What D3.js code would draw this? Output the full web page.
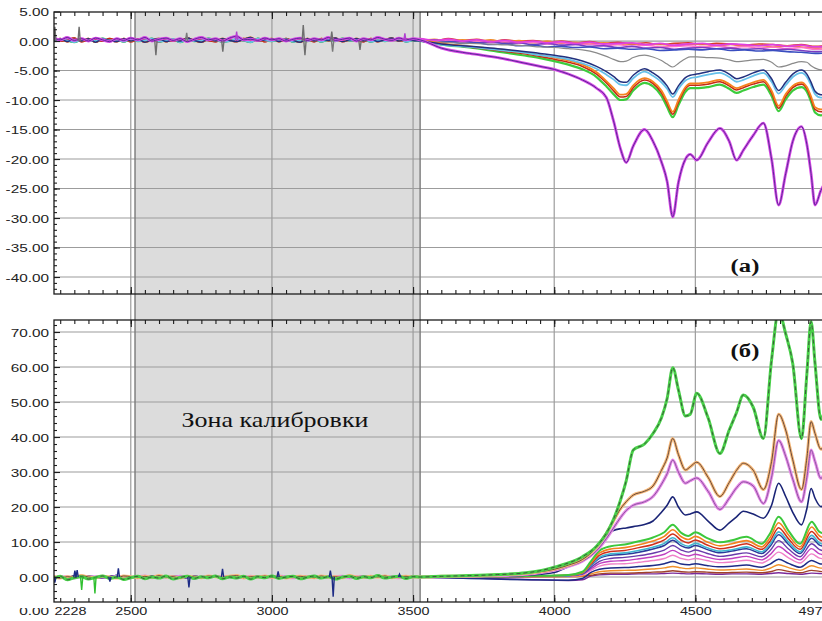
<!DOCTYPE html>
<html><head><meta charset="utf-8">
<script src="https://cdn.jsdelivr.net/npm/d3@7/dist/d3.min.js"></script>
<style>body{margin:0;background:#fff}svg{display:block}</style>
</head><body><svg id="c" width="822" height="621"></svg>
<script>
// ---------------- DATA ----------------
const calibZone = [2515, 3525];
const xTickValues = [2228, 2500, 3000, 3500, 4000, 4500, 4977];
const xTickLabels = ["2228", "2500", "3000", "3500", "4000", "4500", "4977"];
const topTickValues = [5, 0, -5, -10, -15, -20, -25, -30, -35, -40];
const topTickLabels = ["5.00", "0.00", "-5.00", "-10.00", "-15.00", "-20.00", "-25.00", "-30.00", "-35.00", "-40.00"];
const botTickValues = [70, 60, 50, 40, 30, 20, 10, 0];
const botTickLabels = ["70.00", "60.00", "50.00", "40.00", "30.00", "20.00", "10.00", "0.00"];

const calibX = [2228, 2250, 2275, 2300, 2325, 2350, 2375, 2400, 2425, 2450, 2475, 2500, 2525, 2550, 2575, 2600, 2625, 2650, 2675, 2700, 2725, 2750, 2775, 2800, 2825, 2850, 2875, 2900, 2925, 2950, 2975, 3000, 3025, 3050, 3075, 3100, 3125, 3150, 3175, 3200, 3225, 3250, 3275, 3300, 3325, 3350, 3375, 3400, 3425, 3450, 3475, 3500];
const topNoiseA = [0.5, 0.2, 0.6, 0.1, 0.4, 0.0, 0.5, 0.2, -0.1, 0.4, 0.1, 0.5, 0.2, 0.6, 0.0, 0.3, 0.5, 0.1, 0.4, -0.1, 0.3, 0.6, 0.2, 0.4, 0.0, 0.5, 0.8, 0.2, 0.3, 0.1, 0.5, 0.2, 0.4, 0.0, 0.3, 0.5, 0.1, 0.4, 0.2, 0.6, 0.1, 0.3, 0.5, 0.0, 0.4, 0.2, 0.6, 0.3, 0.1, 0.5, 0.2, 0.4];
const topNoiseB = [0.1, 0.4, -0.1, 0.3, 0.0, 0.4, -0.2, 0.3, 0.1, -0.1, 0.4, 0.0, 0.3, -0.2, 0.2, 0.4, -0.1, 0.2, 0.0, 0.5, 0.1, -0.2, 0.3, 0.0, 0.4, 0.1, -0.1, 0.3, 0.6, 0.0, 0.2, 0.4, -0.1, 0.3, 0.1, -0.2, 0.4, 0.0, 0.3, 0.1, 0.5, -0.1, 0.2, 0.4, 0.0, 0.3, -0.1, 0.2, 0.5, 0.0, 0.3, 0.1];
const topNoiseC = [0.3, 0.0, 0.2, 0.5, -0.1, 0.2, 0.3, 0.0, 0.4, 0.1, 0.3, -0.1, 0.2, 0.4, 0.1, -0.1, 0.3, 0.0, 0.2, 0.4, 0.0, 0.3, 0.1, -0.1, 0.3, 0.2, 0.0, 0.4, 0.1, 0.3, -0.1, 0.2, 0.1, 0.4, 0.0, 0.2, 0.3, -0.1, 0.4, 0.1, 0.2, 0.0, 0.3, 0.1, -0.1, 0.4, 0.0, 0.2, 0.3, 0.1, 0.0, 0.2];
const topNoiseD = [0.0, 0.3, 0.1, -0.2, 0.2, 0.1, 0.0, 0.4, 0.1, 0.2, -0.1, 0.3, 0.0, 0.1, 0.4, -0.1, 0.1, 0.3, -0.2, 0.2, 0.0, 0.1, 0.4, 0.2, -0.1, 0.0, 0.3, 0.1, -0.2, 0.4, 0.1, 0.0, 0.2, 0.3, -0.1, 0.1, 0.0, 0.3, -0.1, 0.2, 0.0, 0.4, 0.1, 0.2, 0.3, -0.1, 0.1, 0.0, 0.2, 0.4, -0.1, 0.1];
const botNoiseA = [-0.5, 0.2, -0.8, -0.2, 0.1, -0.6, -0.1, 0.3, -0.4, 0.0, -0.7, -0.2, 0.2, -0.5, 0.0, -0.3, 0.3, -0.6, -0.1, 0.2, -0.4, 0.1, -0.2, 0.3, -0.5, 0.0, -0.3, 0.2, -0.6, 0.1, -0.2, 0.3, -0.4, 0.0, 0.2, -0.5, -0.1, 0.3, -0.3, 0.1, -0.6, 0.0, 0.2, -0.4, 0.1, -0.2, 0.4, -0.3, 0.0, 0.2, -0.4, 0.1];
const botNoiseB = [0.2, -0.3, 0.1, -0.1, 0.4, 0.0, -0.2, 0.2, 0.0, -0.3, 0.3, 0.1, -0.2, 0.2, -0.1, 0.4, 0.0, 0.1, -0.3, 0.2, 0.0, -0.2, 0.3, 0.1, -0.1, 0.2, 0.4, -0.2, 0.1, 0.0, 0.3, -0.1, 0.2, -0.3, 0.1, 0.2, 0.0, -0.2, 0.3, 0.0, 0.1, -0.2, 0.4, 0.0, -0.1, 0.2, 0.0, 0.3, -0.2, 0.1, 0.2, 0.0];
const botNoiseC = [0.0, 0.1, -0.2, 0.3, -0.1, 0.2, 0.0, -0.3, 0.1, 0.4, -0.1, 0.0, 0.2, -0.2, 0.3, 0.0, -0.1, 0.2, 0.1, -0.3, 0.2, 0.0, -0.1, 0.3, 0.0, 0.2, -0.2, 0.1, 0.0, 0.3, -0.1, 0.1, 0.2, -0.2, 0.0, 0.3, 0.1, -0.1, 0.2, 0.0, -0.3, 0.2, 0.1, 0.0, 0.3, -0.1, 0.0, 0.2, -0.2, 0.1, 0.0, 0.2];
const botNoiseD = [-0.2, 0.1, 0.0, -0.3, 0.2, -0.1, 0.1, 0.0, -0.2, 0.2, 0.0, -0.1, 0.1, 0.3, -0.2, 0.0, 0.1, -0.1, 0.2, 0.0, -0.3, 0.1, 0.0, 0.2, -0.1, 0.1, 0.0, -0.2, 0.2, 0.0, 0.1, -0.1, 0.3, 0.0, -0.2, 0.1, 0.0, 0.2, -0.1, 0.0, 0.1, 0.2, -0.2, 0.1, 0.0, -0.1, 0.2, 0.0, 0.1, -0.2, 0.0, 0.1];

const spikeTopX = [2231, 2317, 2589, 2698, 2826, 2875, 3111, 3117, 3212, 3215, 3312, 3471];
const spikeTopV = [2.4, 2.4, -2.4, 1.4, -1.8, 1.6, 2.7, -2.4, 1.6, -1.8, -1.5, 1.3];
const spikeBotX = [2231, 2302, 2310, 2326, 2373, 2426, 2456, 2706, 2825, 3022, 3207, 3217, 3452];
const spikeBotV = [-1.6, 1.8, 2.0, -3.7, -4.7, -1.3, 2.5, -3.0, 2.3, 1.6, 1.8, -5.6, 0.8];

const featX = [3525, 3600, 3700, 3800, 3900, 3950, 4000, 4050, 4100, 4150, 4185, 4210, 4235, 4255, 4280, 4320, 4350, 4380, 4400, 4420, 4440, 4465, 4482, 4505, 4545, 4587, 4620, 4646, 4670, 4705, 4741, 4770, 4795, 4820, 4845, 4876, 4895, 4910, 4924, 4945, 4960, 4977];
const topPurple = [0.2, -1.2, -2.1, -2.8, -3.8, -4.3, -4.8, -5.6, -6.6, -8.0, -9.6, -13.5, -18.3, -20.6, -17.8, -15.0, -17.0, -20.5, -23.8, -29.8, -24.0, -20.0, -19.2, -20.2, -17.2, -14.8, -17.0, -20.2, -18.5, -16.0, -13.9, -20.0, -27.8, -22.5, -17.0, -14.5, -17.5, -22.5, -27.8, -25.3, -24.0, -23.0];
const topNavy = [0.0, -0.5, -0.9, -1.3, -1.8, -2.1, -2.4, -2.8, -3.4, -4.3, -5.2, -6.0, -6.9, -7.0, -5.8, -4.7, -5.4, -6.5, -7.6, -9.0, -7.6, -6.2, -5.8, -5.6, -5.2, -4.9, -5.6, -6.4, -6.1, -5.4, -4.9, -6.4, -8.4, -7.0, -5.6, -4.9, -5.6, -7.0, -8.5, -9.1, -9.0, -8.8];
const topCyan = [0.0, -0.6, -1.0, -1.5, -2.0, -2.4, -2.7, -3.1, -3.8, -4.7, -5.7, -6.5, -7.4, -7.5, -6.3, -5.2, -5.9, -7.0, -8.1, -9.5, -8.1, -6.7, -6.3, -6.1, -5.7, -5.4, -6.1, -6.9, -6.6, -5.9, -5.4, -6.9, -8.9, -7.5, -6.1, -5.4, -6.1, -7.5, -9.0, -9.6, -9.5, -9.3];
const topOrange = [0.1, -0.4, -0.9, -1.4, -2.0, -2.4, -2.8, -3.3, -4.0, -5.3, -6.8, -8.0, -9.1, -9.0, -7.5, -6.3, -6.9, -8.4, -10.2, -12.0, -10.0, -7.8, -7.2, -7.2, -7.0, -6.6, -7.3, -8.0, -7.6, -7.0, -6.6, -8.4, -11.0, -9.0, -7.6, -7.0, -7.8, -9.4, -11.2, -11.6, -11.4, -11.0];
const topRed = [0.0, -0.5, -1.0, -1.6, -2.2, -2.6, -3.1, -3.6, -4.3, -5.6, -7.1, -8.4, -9.5, -9.4, -7.9, -6.6, -7.2, -8.8, -10.6, -12.4, -10.4, -8.1, -7.5, -7.5, -7.3, -6.9, -7.6, -8.3, -7.9, -7.3, -6.9, -8.8, -11.4, -9.4, -7.9, -7.3, -8.1, -9.8, -11.6, -12.0, -11.8, -11.4];
const topGreen = [0.0, -0.6, -1.1, -1.8, -2.5, -2.9, -3.4, -4.0, -4.8, -6.1, -7.7, -9.0, -10.0, -9.9, -8.4, -7.1, -7.7, -9.3, -11.2, -12.9, -10.9, -8.6, -8.0, -8.0, -7.8, -7.4, -8.1, -8.8, -8.4, -7.8, -7.4, -9.3, -11.9, -9.9, -8.4, -7.8, -8.6, -10.3, -12.1, -12.6, -12.3, -11.9];
const topGray = [0.1, -0.2, -0.4, -0.6, -0.8, -1.0, -1.1, -1.3, -1.5, -2.0, -2.6, -3.1, -3.5, -3.4, -2.8, -2.4, -2.7, -3.3, -3.9, -4.4, -3.8, -3.0, -2.7, -2.7, -2.8, -2.9, -3.2, -3.5, -3.4, -3.2, -3.1, -3.6, -4.4, -4.2, -3.8, -3.5, -3.6, -4.2, -4.6, -4.9, -4.9, -4.8];

const bandX = [3525, 3575, 3625, 3675, 3725, 3775, 3825, 3875, 3925, 3975, 4025, 4075, 4125, 4175, 4225, 4275, 4325, 4375, 4425, 4475, 4525, 4575, 4625, 4675, 4725, 4775, 4825, 4875, 4925, 4977];
const bandRed = [0.3, 0.0, 0.4, 0.1, 0.3, -0.1, 0.2, 0.0, 0.1, -0.2, 0.0, -0.3, -0.1, -0.4, -0.2, -0.5, -0.3, -0.6, -0.4, -0.3, -0.6, -0.4, -0.5, -0.7, -0.5, -0.6, -0.8, -0.6, -0.9, -0.8];
const bandOrange = [0.1, 0.3, -0.1, 0.2, 0.0, 0.2, -0.2, 0.1, -0.3, 0.0, -0.4, -0.2, -0.5, -0.3, -0.6, -0.4, -0.7, -0.5, -0.8, -0.6, -0.5, -0.8, -0.6, -0.9, -0.7, -1.0, -0.8, -1.0, -1.2, -1.1];
const bandPink = [0.2, -0.1, 0.1, -0.2, 0.0, -0.3, -0.1, -0.4, -0.2, -0.5, -0.3, -0.6, -0.5, -0.8, -0.6, -0.9, -0.7, -1.0, -0.9, -0.8, -1.0, -0.8, -1.1, -0.9, -1.2, -1.0, -1.3, -1.1, -1.4, -1.3];
const bandPurple = [0.0, 0.2, -0.2, 0.0, -0.3, -0.1, -0.4, -0.3, -0.6, -0.4, -0.7, -0.6, -0.9, -0.8, -1.1, -0.9, -1.2, -1.1, -1.4, -1.2, -1.1, -1.3, -1.2, -1.4, -1.3, -1.5, -1.4, -1.6, -1.8, -1.7];
const bandMagenta = [0.4, 0.1, 0.3, 0.0, 0.2, -0.1, 0.1, -0.2, 0.0, -0.3, -0.1, -0.4, -0.2, -0.5, -0.4, -0.3, -0.6, -0.4, -0.7, -0.5, -0.4, -0.7, -0.5, -0.6, -0.8, -0.6, -0.9, -0.7, -1.0, -0.9];
const bandBlue = [0.0, -0.3, -0.1, -0.4, -0.3, -0.6, -0.5, -0.8, -0.7, -1.0, -0.9, -1.1, -1.0, -1.3, -1.2, -1.4, -1.3, -1.6, -1.5, -1.4, -1.5, -1.3, -1.6, -1.5, -1.7, -1.6, -1.8, -1.9, -2.1, -2.0];

const botGreen = [0.0, 0.2, 0.4, 0.7, 1.2, 1.8, 2.8, 4.0, 5.8, 8.8, 12.5, 16.5, 22.0, 27.5, 36.3, 38.0, 41.0, 45.5, 51.0, 59.8, 53.5, 46.0, 46.5, 52.5, 45.5, 35.3, 42.0, 47.0, 52.0, 48.5, 39.6, 62.0, 76.0, 69.5, 61.0, 39.5, 58.0, 73.0, 61.0, 45.0, 48.0, 52.0];
const botOrange = [0.0, 0.2, 0.3, 0.6, 1.0, 1.5, 2.2, 3.4, 5.0, 8.5, 12.5, 16.0, 19.5, 21.5, 23.4, 24.5, 26.0, 30.5, 34.0, 39.6, 35.0, 30.6, 31.5, 32.8, 28.5, 23.0, 27.0, 30.5, 32.5, 30.5, 25.0, 33.0, 46.5, 42.0, 33.5, 25.0, 34.0, 44.4, 41.0, 36.5, 38.0, 40.0];
const botPink = [0.0, 0.1, 0.2, 0.4, 0.8, 1.2, 1.9, 3.0, 4.5, 7.5, 11.0, 14.0, 17.0, 19.0, 20.5, 21.5, 23.0, 26.5, 29.5, 33.4, 30.0, 26.8, 27.5, 28.3, 24.5, 19.3, 22.5, 25.5, 27.2, 26.0, 21.0, 28.5, 39.0, 34.5, 28.0, 21.5, 28.5, 36.3, 33.0, 28.2, 30.0, 32.0];
const botNavy = [0.0, 0.0, 0.1, 0.2, 0.5, 0.8, 1.3, 3.0, 5.5, 8.5, 12.0, 13.3, 13.8, 14.0, 14.4, 15.0, 16.0, 18.5, 20.5, 22.9, 20.0, 17.7, 18.0, 18.6, 16.0, 13.4, 15.5, 17.2, 18.8, 18.0, 16.8, 20.5, 26.8, 23.0, 18.5, 14.9, 19.5, 25.3, 22.5, 20.1, 21.0, 22.0];

const bundleX = [3525, 3700, 3900, 4050, 4100, 4130, 4160, 4200, 4250, 4300, 4350, 4390, 4420, 4450, 4475, 4500, 4540, 4587, 4630, 4681, 4735, 4765, 4795, 4830, 4871, 4912, 4940, 4977];
const bundleGreen = [0, 0.1, 0.3, 0.6, 1.5, 4.5, 7.5, 8.8, 9.3, 10.2, 11.3, 12.8, 14.9, 12.6, 11.7, 12.8, 11.2, 9.9, 10.5, 11.5, 9.5, 12.5, 17.2, 13.2, 9.5, 15.8, 12.9, 12.0];
const bundleOrange = [0, 0.1, 0.3, 0.5, 1.3, 4.0, 6.8, 8.0, 8.4, 9.2, 10.3, 11.6, 13.5, 11.5, 10.7, 11.6, 10.1, 8.9, 9.5, 10.4, 8.6, 11.3, 15.5, 12.0, 8.6, 14.3, 11.7, 10.8];
const bundleRed = [0, 0.1, 0.2, 0.5, 1.2, 3.7, 6.2, 7.3, 7.6, 8.4, 9.3, 10.6, 12.3, 10.5, 9.7, 10.6, 9.2, 8.1, 8.6, 9.5, 7.9, 10.3, 14.1, 10.9, 7.9, 13.0, 10.7, 9.8];
const bundleCyan = [0, 0.1, 0.2, 0.4, 1.1, 3.4, 5.6, 6.6, 6.9, 7.6, 8.5, 9.6, 11.2, 9.5, 8.8, 9.6, 8.4, 7.4, 7.8, 8.6, 7.2, 9.4, 12.9, 10.0, 7.2, 11.9, 9.7, 9.0];
const bundleNavy = [0, 0.1, 0.2, 0.4, 1.0, 3.2, 5.3, 6.2, 6.5, 7.1, 8.0, 9.0, 10.5, 8.9, 8.3, 9.0, 7.9, 6.9, 7.4, 8.1, 6.7, 8.8, 12.1, 9.3, 6.7, 11.1, 9.1, 8.4];
const bundlePurple = [0, 0.1, 0.2, 0.4, 0.9, 2.7, 4.5, 5.3, 5.6, 6.1, 6.8, 7.7, 9.0, 7.7, 7.1, 7.7, 6.8, 5.9, 6.3, 6.9, 5.8, 7.6, 10.4, 8.0, 5.8, 9.5, 7.8, 7.2];
const bundleMagenta = [0, 0.1, 0.2, 0.3, 0.8, 2.3, 3.8, 4.5, 4.7, 5.2, 5.8, 6.5, 7.6, 6.5, 6.0, 6.5, 5.7, 5.0, 5.3, 5.9, 4.9, 6.4, 8.7, 6.8, 4.9, 8.1, 6.6, 6.1];
const bundlePink = [0, 0.0, 0.1, 0.2, 0.6, 1.9, 3.1, 3.7, 3.8, 4.2, 4.7, 5.3, 6.2, 5.3, 4.9, 5.3, 4.7, 4.1, 4.3, 4.8, 4.0, 5.2, 7.1, 5.5, 4.0, 6.6, 5.4, 5.0];
const bundleNavy2 = [0, -0.4, -0.8, -0.9, -0.4, 1.3, 2.2, 2.6, 2.7, 3.0, 3.3, 3.8, 4.4, 3.7, 3.5, 3.8, 3.3, 2.9, 3.1, 3.4, 2.8, 3.7, 5.1, 3.9, 2.8, 4.7, 3.8, 3.5];
const bundleOrange2 = [0, 0.0, 0.1, 0.1, 0.3, 0.9, 1.5, 1.8, 1.9, 2.0, 2.3, 2.6, 3.0, 2.6, 2.4, 2.6, 2.3, 2.0, 2.1, 2.3, 1.9, 2.5, 3.5, 2.7, 1.9, 3.2, 2.6, 2.4];
const bundleBrown = [0, 0.0, 0.0, 0.1, 0.2, 0.5, 0.9, 1.1, 1.1, 1.2, 1.4, 1.5, 1.8, 1.5, 1.4, 1.5, 1.4, 1.2, 1.3, 1.4, 1.2, 1.5, 2.1, 1.6, 1.2, 1.9, 1.6, 1.4];
const bundlePurpleFlat = [0, -0.3, -0.7, -1.0, -0.8, 0.3, 0.6, 0.8, 0.8, 0.9, 0.9, 1.0, 1.1, 1.0, 0.9, 1.0, 0.9, 0.8, 0.9, 0.9, 0.8, 1.0, 1.2, 1.0, 0.8, 1.1, 1.0, 0.9];

// ---------------- LAYOUT ----------------
const L = 54, R = 830, topT = 12, topB = 294, botT = 320, botB = 602;
const x = d3.scaleLinear().domain([2228, 4977]).range([L, R]);
const yTop = d3.scaleLinear().domain([-42.88, 4.92]).range([topB, topT]);
const yBot = d3.scaleLinear().domain([-7.14, 73.43]).range([botB, botT]);

const svg = d3.select('#c');
svg.append('rect').attr('width', 822).attr('height', 621).attr('fill', '#fff');
const defs = svg.append('defs');
defs.append('clipPath').attr('id', 'clipTop').append('rect')
  .attr('x', L).attr('y', topT).attr('width', R - L).attr('height', topB - topT);
defs.append('clipPath').attr('id', 'clipBot').append('rect')
  .attr('x', L).attr('y', botT).attr('width', R - L).attr('height', botB - botT);
defs.append('clipPath').attr('id', 'clipLab').append('rect')
  .attr('x', 0).attr('y', 608).attr('width', 54).attr('height', 13);

// calibration zone
svg.append('rect')
  .attr('x', x(calibZone[0])).attr('y', topT)
  .attr('width', x(calibZone[1]) - x(calibZone[0])).attr('height', botB - topT)
  .attr('fill', '#dcdcdc');

// grids
const gridColor = '#9c9c9c';
function hGrid(yS, vals) {
  svg.append('g').selectAll('line').data(vals).join('line')
    .attr('x1', L).attr('x2', R)
    .attr('y1', d => yS(d)).attr('y2', d => yS(d))
    .attr('stroke', gridColor).attr('stroke-width', 1.2);
}
hGrid(yTop, topTickValues.filter(v => v < 5));
hGrid(yBot, botTickValues);
const vGridFull = [2500, 3000, 3500];
const vGridPanel = [4000, 4500];
svg.append('g').selectAll('line').data(vGridFull).join('line')
  .attr('x1', d => x(d)).attr('x2', d => x(d)).attr('y1', topT).attr('y2', botB)
  .attr('stroke', gridColor).attr('stroke-width', 1.2);
[[topT, topB], [botT, botB]].forEach(([a, b]) => {
  svg.append('g').selectAll('line').data(vGridPanel).join('line')
    .attr('x1', d => x(d)).attr('x2', d => x(d)).attr('y1', a).attr('y2', b)
    .attr('stroke', gridColor).attr('stroke-width', 1.2);
});
svg.append('g').selectAll('line').data(calibZone).join('line')
  .attr('x1', d => x(d)).attr('x2', d => x(d)).attr('y1', topT).attr('y2', botB)
  .attr('stroke', '#7a7a7a').attr('stroke-width', 1.4);

// ---------------- SERIES ----------------
function pts(noise, xs, ys) {
  return d3.zip(calibX, noise).concat(d3.zip(xs, ys));
}
const topSeries = [
  {d: pts(topNoiseC, bandX, bandRed), c: '#d83a2a', w: 1.6},
  {d: pts(topNoiseB, bandX, bandOrange), c: '#f08a2a', w: 1.6},
  {d: pts(topNoiseD, bandX, bandPink), c: '#ff70c8', w: 1.6},
  {d: pts(topNoiseB, bandX, bandPurple), c: '#7a3cc0', w: 1.6},
  {d: pts(topNoiseD, bandX, bandBlue), c: '#3a4ec0', w: 1.6},
  {d: pts(topNoiseA, bandX, bandMagenta), c: '#e040e0', w: 1.8},
  {d: pts(topNoiseC, featX, topGray), c: '#8a8a8a', w: 1.2},
  {d: pts(topNoiseD, featX, topGreen), c: '#3ccc3c', w: 2.2},
  {d: pts(topNoiseC, featX, topRed), c: '#c42a14', w: 1.6},
  {d: pts(topNoiseB, featX, topOrange), c: '#f6821e', w: 1.8},
  {d: pts(topNoiseD, featX, topCyan), c: '#66c0ea', w: 1.8},
  {d: pts(topNoiseB, featX, topNavy), c: '#22307e', w: 1.5},
  {d: pts(topNoiseA, featX, topPurple), c: '#d848e8', w: 2.8},
  {d: pts(topNoiseA, featX, topPurple), c: '#5a2a96', w: 1.0}
];
const botSeries = [
  {d: pts(botNoiseD, bundleX, bundlePurpleFlat), c: '#7a2a9a', w: 1.4},
  {d: pts(botNoiseB, bundleX, bundleBrown), c: '#a0422a', w: 1.4},
  {d: pts(botNoiseB, bundleX, bundleOrange2), c: '#f0902a', w: 1.4},
  {d: pts(botNoiseC, bundleX, bundleNavy2), c: '#1e2c86', w: 1.5},
  {d: pts(botNoiseD, bundleX, bundlePink), c: '#f080c8', w: 1.4},
  {d: pts(botNoiseD, bundleX, bundleMagenta), c: '#c040c0', w: 1.4},
  {d: pts(botNoiseC, bundleX, bundlePurple), c: '#6a3aaa', w: 1.4},
  {d: pts(botNoiseC, bundleX, bundleNavy), c: '#2a3a9a', w: 1.5},
  {d: pts(botNoiseB, bundleX, bundleCyan), c: '#40b4d0', w: 1.6},
  {d: pts(botNoiseB, bundleX, bundleRed), c: '#d0301c', w: 1.5},
  {d: pts(botNoiseB, bundleX, bundleOrange), c: '#f4821e', w: 1.6},
  {d: pts(botNoiseA, bundleX, bundleGreen), c: '#3cc83c', w: 2.0},
  {d: pts(botNoiseC, featX, botNavy), c: '#1a2476', w: 1.6},
  {d: pts(botNoiseD, featX, botPink), c: '#e888e8', w: 3.0},
  {d: pts(botNoiseD, featX, botPink), c: '#8a5aa0', w: 1.0},
  {d: pts(botNoiseB, featX, botOrange), c: '#f6b878', w: 3.0},
  {d: pts(botNoiseB, featX, botOrange), c: '#6a4a3a', w: 1.0},
  {d: pts(botNoiseA, featX, botGreen), c: '#48d048', w: 3.0},
  {d: pts(botNoiseA, featX, botGreen), c: '#3a4a3a', w: 0.9, dash: '4,3'}
];

function drawPanel(series, yS, clip, spX, spV, spColors) {
  const g = svg.append('g').attr('clip-path', `url(#${clip})`);
  const line = d3.line().x(d => x(d[0])).y(d => yS(d[1])).curve(d3.curveMonotoneX);
  g.selectAll('path.s').data(series).join('path').attr('class', 's')
    .attr('d', s => line(s.d)).attr('fill', 'none')
    .attr('stroke', s => s.c).attr('stroke-width', s => s.w)
    .attr('stroke-dasharray', s => s.dash || null)
    .attr('stroke-linejoin', 'round');
  const spk = d3.line().x(d => x(d[0])).y(d => yS(d[1]));
  g.selectAll('path.k').data(d3.zip(spX, spV)).join('path').attr('class', 'k')
    .attr('d', ([sx, sv]) => spk([[sx - 4, 0], [sx, sv], [sx + 4, 0]]))
    .attr('fill', 'none').attr('stroke', (d, i) => spColors[i % spColors.length])
    .attr('stroke-width', 1.4);
}
drawPanel(topSeries, yTop, 'clipTop', spikeTopX, spikeTopV, ['#6e6e6e', '#6e6e6e', '#6e6e6e', '#7a7a7a', '#6e6e6e', '#b040d0']);
drawPanel(botSeries, yBot, 'clipBot', spikeBotX, spikeBotV, ['#1e2c86', '#1e2c86', '#1e2c86', '#30c030', '#30c030', '#1e2c86', '#1e2c86', '#1e2c86', '#1e2c86', '#1e2c86', '#1e2c86', '#1e2c86', '#1e2c86']);

// ---------------- FRAMES & TICKS ----------------
const frameColor = '#1c1c1c';
[[topT, topB], [botT, botB]].forEach(([a, b]) => {
  svg.append('rect').attr('x', L).attr('y', a).attr('width', R - L).attr('height', b - a)
    .attr('fill', 'none').attr('stroke', frameColor).attr('stroke-width', 1.3);
});
const minorX = d3.range(2250, 4977, 50);
const majorX = minorX.filter(v => v % 500 === 0);
function xTicksAt(yPos, down, size, vals) {
  const ax = (down ? d3.axisBottom(x) : d3.axisTop(x)).tickValues(vals).tickSize(size).tickFormat('');
  const g = svg.append('g').attr('transform', `translate(0,${yPos})`).call(ax);
  g.select('.domain').remove();
  g.selectAll('line').attr('stroke', frameColor).attr('stroke-width', 1.1);
}
[[topT, true], [topB, false], [botT, true], [botB, false]].forEach(([p, dn]) => {
  xTicksAt(p, dn, 4, minorX);
  xTicksAt(p, dn, 7, majorX);
});
function yTicksAt(yS, minorVals, majorVals) {
  [[minorVals, 3], [majorVals, 6]].forEach(([vals, sz]) => {
    const g = svg.append('g').attr('transform', `translate(${L},0)`)
      .call(d3.axisRight(yS).tickValues(vals).tickSize(sz).tickFormat(''));
    g.select('.domain').remove();
    g.selectAll('line').attr('stroke', frameColor).attr('stroke-width', 1.1);
  });
}
yTicksAt(yTop, d3.range(-42, 5, 1), topTickValues);
yTicksAt(yBot, d3.range(-6, 74, 2), botTickValues);

// ---------------- LABELS ----------------
const labFont = '"Liberation Sans", Arial, sans-serif';
const SX = 1.25;
const SY = 1.3;
function yLabels(yS, vals, labels) {
  const g = svg.append('g').attr('transform', `translate(${L},0)`)
    .call(d3.axisLeft(yS).tickValues(vals).tickSize(0).tickFormat((d, i) => labels[i]));
  g.select('.domain').remove();
  g.selectAll('text').attr('x', 0).attr('dy', '0.35em')
    .attr('transform', `translate(-5,0) scale(${SY},1)`)
    .attr('font-family', labFont).attr('font-size', 11.8).attr('fill', '#222');
}
yLabels(yTop, topTickValues, topTickLabels);
yLabels(yBot, botTickValues, botTickLabels);
svg.append('g').attr('clip-path', 'url(#clipLab)')
  .append('text').attr('y', 611).attr('dy', '0.35em')
  .attr('transform', `translate(${49 - 49 * SY},0) scale(${SY},1)`)
  .attr('x', 49).attr('text-anchor', 'end')
  .attr('font-family', labFont).attr('font-size', 11.8).attr('fill', '#222').text('0.00');

const gx = svg.append('g').attr('transform', `translate(0,${botB})`)
  .call(d3.axisBottom(x).tickValues(xTickValues).tickSize(0).tickFormat((d, i) => xTickLabels[i]));
gx.select('.domain').remove();
gx.selectAll('text').attr('y', 5).attr('dy', '0.71em')
  .attr('transform', `scale(${SX},1)`)
  .attr('font-family', labFont).attr('font-size', 11.5).attr('fill', '#222')
  .attr('text-anchor', (d, i) => i === 0 ? 'start' : (i === xTickValues.length - 1 ? 'end' : 'middle'));

const serif = '"Liberation Serif", "Times New Roman", serif';
function note(txt, cx, by, size, weight) {
  svg.append('text').attr('x', 0).attr('y', 0)
    .attr('transform', `translate(${cx},${by}) scale(1.3,1)`)
    .attr('text-anchor', 'middle').attr('font-family', serif)
    .attr('font-size', size).attr('font-weight', weight).attr('fill', '#111').text(txt);
}
note('(a)', 745, 272, 19, 'bold');
note('(б)', 745, 357, 19, 'bold');
note('Зона калибровки', 275, 427, 20, 'normal');
</script></body></html>
